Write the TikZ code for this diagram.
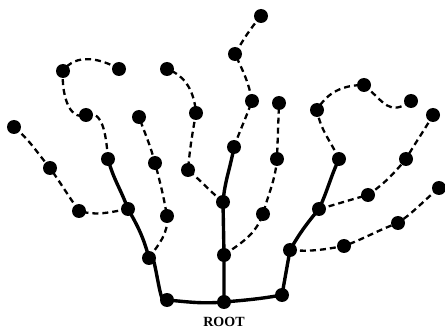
\documentclass[tikz,border=0pt]{standalone}
\usepackage{fontspec}
\setmainfont{Liberation Serif}
\usetikzlibrary{backgrounds}
\begin{document}
\begin{tikzpicture}[x=1pt,y=-1pt,
  dot/.style={circle,fill=black,inner sep=0pt,minimum size=14pt},
  trunk/.style={line width=3.4pt,line cap=round},
  twig/.style={line width=2.3pt,dash pattern=on 6pt off 4pt},
  lbl/.style={font=\bfseries\fontsize{14}{16}\selectfont,inner sep=0pt}]
\useasboundingbox (0,0) rectangle (445,334);
% nodes
\node[dot] (n1) at (167,300) {};
\node[dot] (n2) at (224,302) {};
\node[dot] (n3) at (282,295) {};
\node[dot] (n4) at (149,258) {};
\node[dot] (n5) at (128,209) {};
\node[dot] (n6) at (108,159) {};
\node[dot] (n7) at (86,115) {};
\node[dot] (n8) at (63,71) {};
\node[dot] (n9) at (119,69) {};
\node[dot] (n10) at (79,211) {};
\node[dot] (n11) at (50,168) {};
\node[dot] (n12) at (14,127) {};
\node[dot] (n13) at (167,216) {};
\node[dot] (n14) at (155,163) {};
\node[dot] (n15) at (139,117) {};
\node[dot] (n16) at (224,255) {};
\node[dot] (n17) at (223,202) {};
\node[dot] (n18) at (234,147) {};
\node[dot] (n19) at (252,101) {};
\node[dot] (n20) at (235,54) {};
\node[dot] (n21) at (261,16) {};
\node[dot] (n22) at (263,214) {};
\node[dot] (n23) at (277,159) {};
\node[dot] (n24) at (279,103) {};
\node[dot] (n25) at (188,170) {};
\node[dot] (n26) at (196,113) {};
\node[dot] (n27) at (167,69) {};
\node[dot] (n28) at (290,250) {};
\node[dot] (n29) at (319,209) {};
\node[dot] (n30) at (339,159) {};
\node[dot] (n31) at (317,110) {};
\node[dot] (n32) at (364,85) {};
\node[dot] (n33) at (411,101) {};
\node[dot] (n34) at (344,246) {};
\node[dot] (n35) at (398,223) {};
\node[dot] (n36) at (439,188) {};
\node[dot] (n37) at (368,195) {};
\node[dot] (n38) at (406,159) {};
\node[dot] (n39) at (433,115) {};
\node[lbl] (root) at (224,322) {ROOT};
\begin{pgfonlayer}{background}
\fill[white] (0,0) rectangle (445,334);
% trunks
\draw[trunk] (n1.center) to[out=-5,in=185] (n2.center) to[out=5,in=190] (n3.center);
\draw[trunk] (n1.center) to[out=-115,in=70] (n4.center) to[out=105,in=-60] (n5.center) to[out=110,in=-75] (n6.center);
\draw[trunk] (n2.center) -- (n16.center) -- (n17.center) to[out=85,in=-100] (n18.center);
\draw[trunk] (n3.center) to[out=80,in=-100] (n28.center) to[out=60,in=-130] (n29.center) to[out=65,in=-115] (n30.center);
% twigs
\draw[twig] (n6.center) to[out=95,in=20] (n7.center) to[out=200,in=265] (n8.center) to[out=55,in=150] (n9.center);
\draw[twig] (n5.center) to[out=190,in=-15] (n10.center) to[out=125,in=-55] (n11.center) to[out=130,in=-40] (n12.center);
\draw[twig] (n4.center) to[out=55,in=-85] (n13.center) to[out=100,in=-75] (n14.center) to[out=105,in=-70] (n15.center);
\draw[twig] (n17.center) to[out=140,in=-40] (n25.center) to[out=85,in=-100] (n26.center) to[out=95,in=-20] (n27.center);
\draw[twig] (n18.center) to[out=70,in=-110] (n19.center) to[out=100,in=-65] (n20.center) to[out=60,in=-130] (n21.center);
\draw[twig] (n16.center) to[out=35,in=-110] (n22.center) to[out=75,in=-95] (n23.center) -- (n24.center);
\draw[twig] (n30.center) to[out=115,in=-80] (n31.center) to[out=60,in=180] (n32.center) to[out=-40,in=215,looseness=1.4] (n33.center);
\draw[twig] (n28.center) to[out=-5,in=190] (n34.center) to[out=20,in=200] (n35.center) to[out=35,in=220] (n36.center);
\draw[twig] (n29.center) to[out=15,in=195] (n37.center) to[out=35,in=-130] (n38.center) to[out=60,in=-120] (n39.center);
\end{pgfonlayer}
\end{tikzpicture}
\end{document}
